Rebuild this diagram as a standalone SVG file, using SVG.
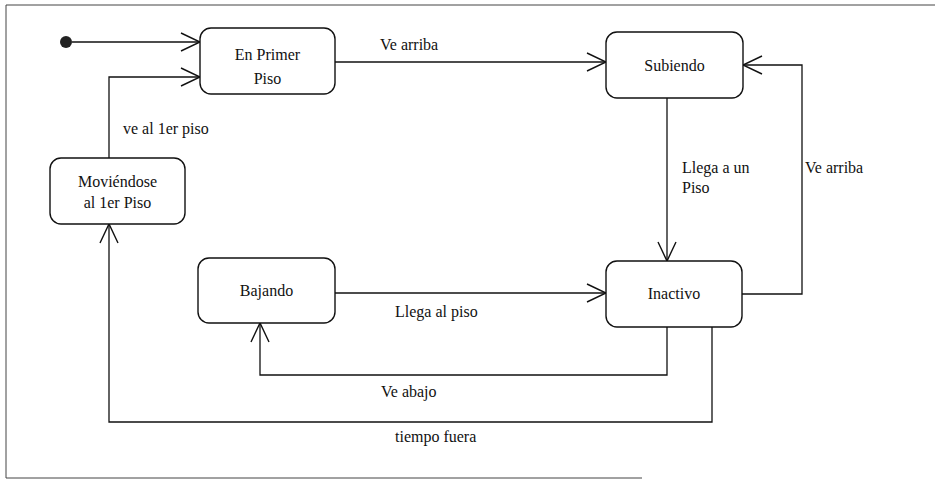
<svg xmlns="http://www.w3.org/2000/svg" width="935" height="483" viewBox="0 0 935 483">
  <style>
    .state { fill: #ffffff; stroke: #111111; stroke-width: 1.4; }
    .conn { fill: none; stroke: #111111; stroke-width: 1.3; }
    .frame { fill: none; stroke: #444444; stroke-width: 1; }
    text { font-family: "Liberation Serif", "DejaVu Serif", serif; font-size: 16px; fill: #111111; }
    .c { text-anchor: middle; }
  </style>
  <defs>
    <marker id="open" markerUnits="userSpaceOnUse" markerWidth="24" markerHeight="24" viewBox="-22 -12 24 24" refX="0" refY="0" orient="auto">
      <path d="M-19,-9 L0,0 L-19,9" fill="none" stroke="#111111" stroke-width="1.4"/>
    </marker>
  </defs>

  <rect width="935" height="483" fill="#ffffff"/>

  <!-- page frame -->
  <path class="frame" d="M935,5 H6 V478 H642"/>

  <!-- transitions -->
  <g id="connectors">
    <circle cx="66" cy="42" r="6" fill="#222222"/>
    <path class="conn" d="M72,42 H200" marker-end="url(#open)"/>
    <path class="conn" d="M109,158 V77 H200" marker-end="url(#open)"/>
    <path class="conn" d="M335,62 H606" marker-end="url(#open)"/>
    <path class="conn" d="M667,98 V261" marker-end="url(#open)"/>
    <path class="conn" d="M742,294 H802 V65 H743" marker-end="url(#open)"/>
    <path class="conn" d="M335,293 H606" marker-end="url(#open)"/>
    <path class="conn" d="M667,327 V375 H260 V323" marker-end="url(#open)"/>
    <path class="conn" d="M712,327 V422 H109 V224" marker-end="url(#open)"/>

    <text x="380" y="50">Ve arriba</text>
    <text x="123" y="134">ve al 1er piso</text>
    <text x="682" y="173">Llega a un</text>
    <text x="682" y="193">Piso</text>
    <text x="805" y="173">Ve arriba</text>
    <text x="395" y="317">Llega al piso</text>
    <text x="381" y="397">Ve abajo</text>
    <text x="395" y="442">tiempo fuera</text>
  </g>

  <!-- states -->
  <g id="en-primer-piso">
    <rect class="state" x="200" y="28" width="135" height="66" rx="11"/>
    <text class="c" x="267.5" y="60">En Primer</text>
    <text class="c" x="267.5" y="84">Piso</text>
  </g>
  <g id="subiendo">
    <rect class="state" x="606" y="32" width="137" height="66" rx="11"/>
    <text class="c" x="674.5" y="71">Subiendo</text>
  </g>
  <g id="moviendose">
    <rect class="state" x="50" y="158" width="135" height="66" rx="11"/>
    <text class="c" x="117.5" y="187">Moviéndose</text>
    <text class="c" x="117.5" y="208">al 1er Piso</text>
  </g>
  <g id="bajando">
    <rect class="state" x="198" y="258" width="137" height="65" rx="11"/>
    <text class="c" x="266.5" y="296">Bajando</text>
  </g>
  <g id="inactivo">
    <rect class="state" x="606" y="261" width="136" height="66" rx="11"/>
    <text class="c" x="674" y="299">Inactivo</text>
  </g>
</svg>
